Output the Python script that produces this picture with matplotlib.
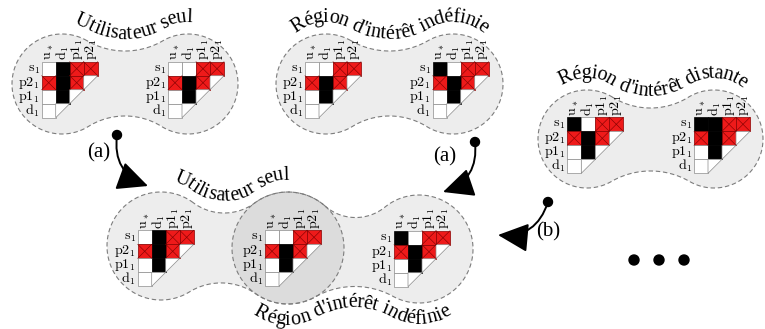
import numpy as np
import matplotlib.pyplot as plt
from matplotlib.patches import Polygon, Rectangle, Circle, FancyArrowPatch
from matplotlib.font_manager import FontProperties, findfont, get_font

plt.rcParams['mathtext.fontset'] = 'cm'
SERIF = 'Liberation Serif'

W, H = 765, 329

# ---- data: cell states of each matrix (rows s1, p2_1, p1_1, d1) ----
# w = empty, b = black, r = red with cross
row_labels = [r'$\mathrm{s}_1$', r'$\mathrm{p2}_1$', r'$\mathrm{p1}_1$', r'$\mathrm{d}_1$']
col_labels = [r'$\mathrm{u}_*$', r'$\mathrm{d}_1$', r'$\mathrm{p1}_1$', r'$\mathrm{p2}_1$']

user_a = ["wbrr", "rbr", "wb", "w"]
user_b = ["wwrr", "rbr", "wb", "w"]
undef_b = ["bwrr", "rbr", "wb", "w"]
dist_b = ["bbrr", "rbr", "wb", "w"]

matrices = [user_a, user_b, user_b, undef_b, undef_b, dist_b, user_a, user_b, undef_b]

titles = ["Utilisateur seul", "Région d'intérêt indéfinie", "Région d'intérêt distante",
          "Utilisateur seul", "Région d'intérêt indéfinie"]
arrow_labels = ["(a)", "(a)", "(b)"]

# ---- layout (pixels, y down) ----
CELL = 14
mat_pos = [(41.7, 61.7), (168, 61.7), (305, 61.7), (432.7, 61.7), (567.3, 117.3),
           (694, 117.3), (137.7, 230.3), (265, 230.3), (394, 230.7)]

# (c1, r1, c2, r2, neck top, neck bottom)
bubbles = [((62, 84), 50, (188, 84), 50, 33, 32),
           ((326, 84), 50, (453, 84), 50, 33, 32),
           ((587, 139), 49, (714, 139), 49, 31, 32),
           ((161, 246), 54, (288, 248), 56, 34, 36),
           ((288, 248), 56, (419, 249), 54, 31, 38)]

# (bubble index, side, text centre x, shift of the mid-letter line from the outline)
title_pos = [(0, 'top', 134, 17), (1, 'top', 390, 17), (2, 'top', 653, 17),
             (3, 'top', 232, 17), (4, 'bot', 352, 16)]
TITLE_FS = 14.5
HALF_X = 4.8  # half x-height of the title font, pixels

arrows = [((117, 135), (148, 186), 0.4, (99, 153)),
          ((475, 142), (443, 192), -0.4, (445, 157)),
          ((548, 202), (498, 235), -0.4, (548, 232))]
dots_x = [634, 659, 684]
dots_y = 260

fig = plt.figure(figsize=(W / 100, H / 100), dpi=100)
ax = fig.add_axes([0, 0, 1, 1])
ax.set_xlim(0, W)
ax.set_ylim(H, 0)
ax.axis('off')


def ang(v):
    return np.arctan2(v[1], v[0])


def neck_centre(c1, r1, c2, r2, h, side):
    a = np.hypot(*(c2 - c1)) / 2
    r = (r1 + r2) / 2
    rho = (a * a + h * h - r * r) / (2 * (r - h))
    R0, R1 = r1 + rho, r2 + rho
    d = 2 * a
    e = (c2 - c1) / d
    p = (R0 ** 2 - R1 ** 2 + d * d) / (2 * d)
    q = np.sqrt(R0 ** 2 - p ** 2)
    perp = np.array([-e[1], e[0]])
    cands = [c1 + p * e + q * perp, c1 + p * e - q * perp]
    cands.sort(key=lambda v: v[1])
    return (cands[0] if side == 'top' else cands[1]), rho


def arc(c, r, t0, t1, n=120):
    t = np.linspace(t0, t1, n)
    return np.c_[c[0] + r * np.cos(t), c[1] + r * np.sin(t)]


def outline(b):
    c1, r1, c2, r2, ht, hb = b
    c1, c2 = np.array(c1, float), np.array(c2, float)
    Nt, rt = neck_centre(c1, r1, c2, r2, ht, 'top')
    Nb, rb = neck_centre(c1, r1, c2, r2, hb, 'bot')
    a0, a1 = ang(Nt - c1), ang(Nb - c1)
    p1 = arc(c1, r1, a0, a1 - 2 * np.pi if a1 > a0 else a1)
    pn1 = arc(Nb, rb, ang(c1 - Nb), ang(c2 - Nb))
    b0, b1 = ang(Nb - c2), ang(Nt - c2)
    if b0 < 0:
        b0 += 2 * np.pi
    if b1 < 0:
        b1 += 2 * np.pi
    p2 = arc(c2, r2, b0, b1 - 2 * np.pi if b1 > b0 else b1)
    pn2 = arc(Nt, rt, ang(c2 - Nt), ang(c1 - Nt))
    return np.vstack([p1, pn1, p2, pn2])


def side_path(b, side, span=1.05):
    # one side of a bubble outline, left to right
    c1, r1, c2, r2, ht, hb = b
    c1, c2 = np.array(c1, float), np.array(c2, float)
    if side == 'top':
        N, rho = neck_centre(c1, r1, c2, r2, ht, 'top')
        p1 = arc(c1, r1, -np.pi / 2 - span, ang(N - c1))
        pn = arc(N, rho, ang(c1 - N), ang(c2 - N))
        p2 = arc(c2, r2, ang(N - c2), -np.pi / 2 + span)
    else:
        N, rho = neck_centre(c1, r1, c2, r2, hb, 'bot')
        p1 = arc(c1, r1, np.pi / 2 + span, ang(N - c1))
        pn = arc(N, rho, ang(c1 - N), ang(c2 - N))
        p2 = arc(c2, r2, ang(N - c2), np.pi / 2 - span)
    return np.vstack([p1, pn, p2])


font = get_font(findfont(FontProperties(family=SERIF)))


def path_text(pts, text, xc, fs):
    # pts: curve through the middle of the lower-case letters
    seg = np.diff(pts, axis=0)
    L = np.r_[0, np.cumsum(np.hypot(seg[:, 0], seg[:, 1]))]
    a = np.arctan2(seg[:, 1], seg[:, 0])
    a = np.r_[a, a[-1]]
    font.set_size(fs, 100)
    widths = [font.load_char(ord(ch)).linearHoriAdvance / 65536 for ch in text]
    s = np.interp(xc, pts[:, 0], L) - sum(widths) / 2
    for ch, w in zip(text, widths):
        sc = s + w / 2
        x = np.interp(sc, L, pts[:, 0])
        y = np.interp(sc, L, pts[:, 1])
        t = np.interp(sc, L, a)
        x += -HALF_X * np.sin(t)
        y += HALF_X * np.cos(t)
        ax.text(x, y, ch, rotation=-np.degrees(t), rotation_mode='anchor', ha='center',
                va='baseline', fontsize=fs, family=SERIF, zorder=6)
        s += w


# bubbles: fills first, then dashed outlines
shapes = [outline(b) for b in bubbles]
for pts in shapes:
    ax.add_patch(Polygon(pts, closed=True, fc=(0, 0, 0, 0.072), ec='none', zorder=1))
for pts in shapes:
    ax.add_patch(Polygon(pts, closed=True, fc='none', ec='#7c7c7c', lw=0.8,
                         ls=(0, (4, 2.5)), zorder=2))

# titles follow the outline, shifted away from the bubble
for (bi, side, xc, t), txt in zip(title_pos, titles):
    pts = side_path(bubbles[bi], side)
    pts[:, 1] += -t if side == 'top' else t
    path_text(pts, txt, xc, TITLE_FS)


def draw_matrix(x0, y0, rows):
    s = CELL
    for r, row in enumerate(rows):
        for c, st in enumerate(row):
            x, y = x0 + c * s, y0 + r * s
            if st == 'w':
                ax.add_patch(Rectangle((x, y), s, s, fc='white', ec='#8c8c8c', lw=0.5, zorder=3))
            elif st == 'b':
                ax.add_patch(Rectangle((x, y), s, s, fc='black', ec='black', lw=0.5, zorder=3))
            else:
                ax.add_patch(Rectangle((x, y), s, s, fc='#ee1a1a', ec='#8a0000', lw=0.5, zorder=3))
                ax.plot([x, x + s], [y, y + s], color='#7a0000', lw=0.4, zorder=4)
                ax.plot([x + s, x], [y, y + s], color='#7a0000', lw=0.4, zorder=4)
        if r >= 1:
            c = 4 - r
            tri = [(x0 + c * s, y0 + r * s), (x0 + (c + 1) * s, y0 + r * s), (x0 + c * s, y0 + (r + 1) * s)]
            ax.add_patch(Polygon(tri, closed=True, fc='white', ec='#8c8c8c', lw=0.5, zorder=3))
    for c, lab in enumerate(col_labels):
        ax.text(x0 + (c + 0.5) * s, y0 - 1.5, lab, rotation=90, ha='center', va='bottom',
                fontsize=10, zorder=5)
    for r, lab in enumerate(row_labels):
        ax.text(x0 - 2, y0 + (r + 0.5) * s, lab, ha='right', va='center', fontsize=10, zorder=5)


for (x0, y0), m in zip(mat_pos, matrices):
    draw_matrix(x0, y0, m)

# arrows
for (p0, p1, rad, lp), lab in zip(arrows, arrow_labels):
    ax.add_patch(FancyArrowPatch(p0, p1, connectionstyle=f'arc3,rad={rad}',
                                 arrowstyle='-|>,head_length=19,head_width=9', mutation_scale=1,
                                 lw=1.4, color='black', shrinkA=0, shrinkB=0, zorder=7))
    ax.add_patch(Circle(p0, 4.5, color='black', zorder=7))
    ax.text(lp[0], lp[1], lab, ha='center', va='center', fontsize=15, family=SERIF, zorder=7)

for x in dots_x:
    ax.add_patch(Circle((x, dots_y), 5, color='black', zorder=7))

fig.savefig('out.png', dpi=100)
